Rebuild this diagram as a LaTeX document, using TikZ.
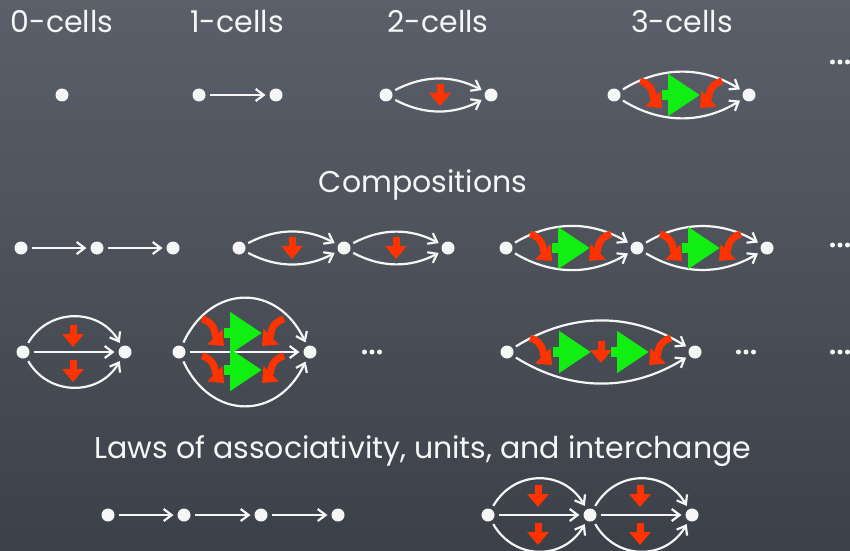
\documentclass[tikz,border=0pt]{standalone}
\usepackage{fontspec}
\setmainfont{Poppins}
\usepackage{tikz}
\usetikzlibrary{arrows.meta}
\definecolor{chalk}{HTML}{F6F6F6}
\definecolor{arrred}{HTML}{FF3300}
\definecolor{arrgreen}{HTML}{11EE11}
\definecolor{boardtop}{HTML}{5A5F69}
\definecolor{boardbot}{HTML}{3C4149}

\tikzset{
  redarr/.style={draw=arrred, line width=7pt, -{Triangle[length=13pt,width=21pt]}},
  greenarr/.style={draw=arrgreen, line width=10pt, -{Triangle[length=32pt,width=40pt]}},
  twocell/.pic={\draw[redarr] (0,11) -- (0,-11);},
  threecell/.pic={\draw[greenarr] (-19,0) -- (19,0);},
  lcurl/.pic={\draw[redarr] (-10,14) .. controls (5,10) and (3,-4) .. (12,-13);},
  rcurl/.pic={\draw[redarr] (10,14) .. controls (-5,10) and (-3,-4) .. (-12,-13);},
  moredots/.pic={\foreach \i in {-7.5,0,7.5} \fill[chalk] (\i,0) circle (2.5);}
}

\begin{document}
\begin{tikzpicture}[x=1pt, y=1pt,
    pt/.style={circle, fill=chalk, inner sep=0pt, outer sep=0pt, minimum size=13pt},
    cell/.style={draw=chalk, line width=2.2pt, -{Straight Barb[length=8pt,width=12pt]}, shorten <=4pt, shorten >=4pt},
    lbl/.style={text=chalk, anchor=base, font=\fontsize{30}{36}\selectfont}]
  \useasboundingbox (0,0) rectangle (850,550);
  \fill[top color=boardtop, bottom color=boardbot] (0,0) rectangle (850,550);

  % titles
  \node[lbl] (t0) at (62,517) {0-cells};
  \node[lbl] (t1) at (237,517) {1-cells};
  \node[lbl] (t2) at (438,517) {2-cells};
  \node[lbl] (t3) at (682,517) {3-cells};
  \node[lbl] (tc) at (423,358) {Compositions};
  \node[lbl] (tl) at (423,92) {Laws of associativity, units, and interchange};

  % cells
  \node[pt] (z) at (62,455) {};
  \node[pt] (o1) at (199,455) {};
  \node[pt] (o2) at (276,455) {};
  \draw[cell] (o1) -- (o2);
  \node[pt] (s1) at (386,455) {};
  \node[pt] (s2) at (491,455) {};
  \draw[cell] (s1) to[bend left=28] (s2);
  \draw[cell] (s1) to[bend right=28] (s2);
  \pic at (440,455) {twocell};
  \node[pt] (h1) at (614,455) {};
  \node[pt] (h2) at (749,455) {};
  \draw[cell] (h1) to[bend left=32] (h2);
  \draw[cell] (h1) to[bend right=32] (h2);
  \pic at (650,455) {lcurl};
  \pic at (681,455) {threecell};
  \pic at (712,455) {rcurl};
  \pic at (840,488) {moredots};

  % compositions along a 0-cell
  \node[pt] (a1) at (21,302) {};
  \node[pt] (a2) at (97,302) {};
  \node[pt] (a3) at (173,302) {};
  \draw[cell] (a1) -- (a2);
  \draw[cell] (a2) -- (a3);
  \node[pt] (b1) at (239,302) {};
  \node[pt] (b2) at (344,302) {};
  \node[pt] (b3) at (448,302) {};
  \foreach \u/\v in {b1/b2, b2/b3} {
    \draw[cell] (\u) to[bend left=28] (\v);
    \draw[cell] (\u) to[bend right=28] (\v);
  }
  \pic at (292,302) {twocell};
  \pic at (396,302) {twocell};
  \node[pt] (c1) at (506,302) {};
  \node[pt] (c2) at (637,302) {};
  \node[pt] (c3) at (767,302) {};
  \foreach \u/\v in {c1/c2, c2/c3} {
    \draw[cell] (\u) to[bend left=31] (\v);
    \draw[cell] (\u) to[bend right=31] (\v);
  }
  \foreach \m in {571,701} {
    \pic at (\m-31,302) {lcurl};
    \pic at (\m,302) {threecell};
    \pic at (\m+30,302) {rcurl};
  }
  \pic at (840,305) {moredots};

  % compositions along a 1-cell
  \node[pt] (d1) at (23,198) {};
  \node[pt] (d2) at (125,198) {};
  \draw[cell] (d1) to[out=60, in=120, looseness=1.2] (d2);
  \draw[cell] (d1) -- (d2);
  \draw[cell] (d1) to[out=-60, in=-120, looseness=1.2] (d2);
  \pic at (73,214) {twocell};
  \pic at (73,179) {twocell};
  \node[pt] (e1) at (179,198) {};
  \node[pt] (e2) at (310,198) {};
  \draw[cell] (e1) to[out=65, in=115, looseness=1.42] (e2);
  \draw[cell] (e1) -- (e2);
  \draw[cell] (e1) to[out=-65, in=-115, looseness=1.42] (e2);
  \foreach \y in {217,180} {
    \pic at (212,\y) {lcurl};
    \pic at (243,\y) {threecell};
    \pic at (274,\y) {rcurl};
  }
  \pic at (372,198) {moredots};
  \node[pt] (f1) at (507,198) {};
  \node[pt] (f2) at (695,198) {};
  \draw[cell] (f1) to[bend left=32] (f2);
  \draw[cell] (f1) to[bend right=32] (f2);
  \pic at (540,198) {lcurl};
  \pic at (572,198) {threecell};
  \pic at (601,198) {twocell};
  \pic at (630,198) {threecell};
  \pic at (661,198) {rcurl};
  \pic at (746,198) {moredots};
  \pic at (840,198) {moredots};

  % laws
  \node[pt] (g1) at (108,35) {};
  \node[pt] (g2) at (184,35) {};
  \node[pt] (g3) at (261,35) {};
  \node[pt] (g4) at (338,35) {};
  \draw[cell] (g1) -- (g2);
  \draw[cell] (g2) -- (g3);
  \draw[cell] (g3) -- (g4);
  \node[pt] (k1) at (488,35) {};
  \node[pt] (k2) at (590,35) {};
  \node[pt] (k3) at (692,35) {};
  \foreach \u/\v in {k1/k2, k2/k3} {
    \draw[cell] (\u) to[out=60, in=120, looseness=1.24] (\v);
    \draw[cell] (\u) -- (\v);
    \draw[cell] (\u) to[out=-60, in=-120, looseness=1.24] (\v);
  }
  \foreach \x in {538,640} {
    \pic at (\x,54) {twocell};
    \pic at (\x,16) {twocell};
  }
\end{tikzpicture}
\end{document}
